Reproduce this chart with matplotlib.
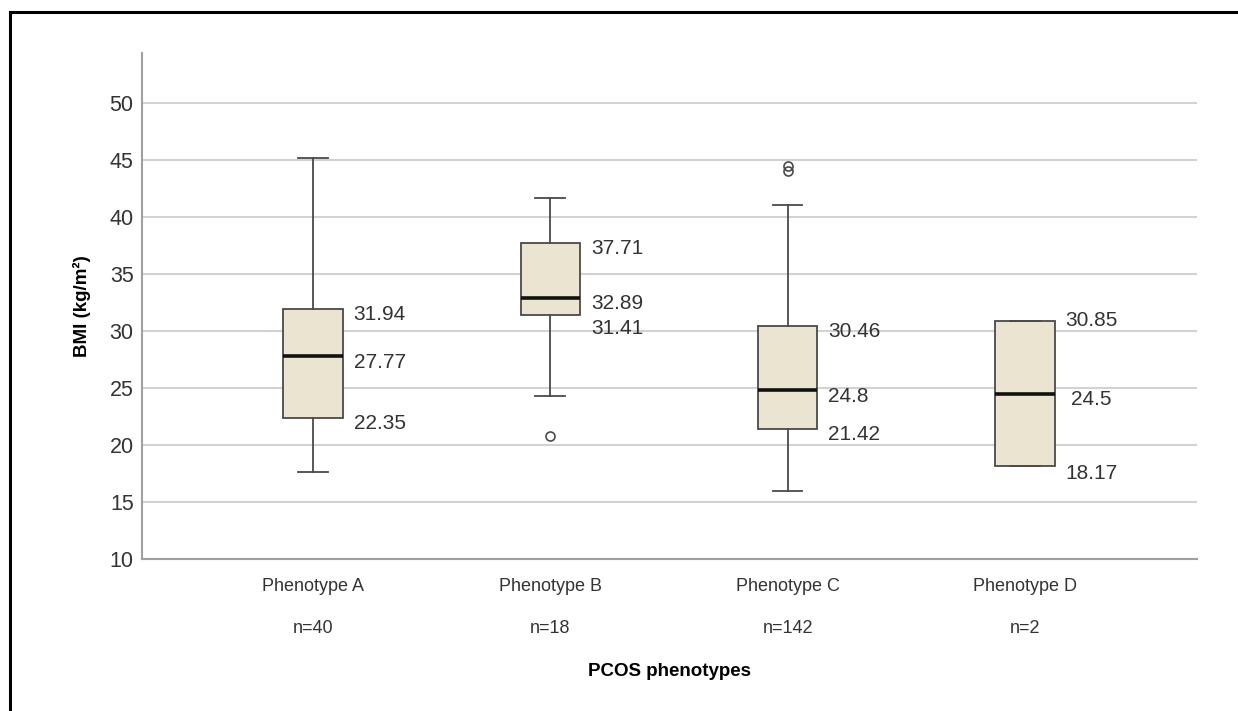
import matplotlib
matplotlib.use('Agg')
import matplotlib.pyplot as plt
from matplotlib.lines import Line2D

# data
phenotypes = ['Phenotype A', 'Phenotype B', 'Phenotype C', 'Phenotype D']
n_counts = [40, 18, 142, 2]
q1 = [22.35, 31.41, 21.42, 18.17]
median = [27.77, 32.89, 24.8, 24.5]
q3 = [31.94, 37.71, 30.46, 30.85]
whisk_lo = [17.6, 24.3, 15.95, 18.17]
whisk_hi = [45.2, 41.65, 41.05, 30.85]
outliers = [[], [20.75], [44.05, 44.5], []]

plt.rcParams['font.family'] = ['Liberation Sans', 'DejaVu Sans']

fig = plt.figure(figsize=(12.38, 7.11), dpi=100)
ax = fig.add_axes([142/1238, 152/711, 1055/1238, 506/711])

stats = []
for i in range(len(phenotypes)):
    stats.append({'med': median[i], 'q1': q1[i], 'q3': q3[i],
                  'whislo': whisk_lo[i], 'whishi': whisk_hi[i],
                  'fliers': outliers[i], 'label': phenotypes[i]})

edge = '#4a4a4a'
ax.bxp(stats, positions=range(4), widths=0.25, capwidths=0.125,
       patch_artist=True, zorder=3,
       boxprops=dict(facecolor='#eae4d0', edgecolor=edge, linewidth=1.3),
       medianprops=dict(color='#111111', linewidth=2.6),
       whiskerprops=dict(color=edge, linewidth=1.3),
       capprops=dict(color=edge, linewidth=1.3),
       flierprops=dict(marker='o', markersize=6.5, markerfacecolor='none',
                       markeredgecolor=edge, markeredgewidth=1.2))

# value labels next to each box
nudge = {(1, 'q1'): -0.7, (3, 'q3'): 0.55, (3, 'q1'): -0.15}
for i in range(4):
    for key, vals in (('q3', q3), ('med', median), ('q1', q1)):
        y = vals[i] + nudge.get((i, key), 0) - 0.5
        dx = 16 if (i == 3 and key == 'med') else 11
        ax.annotate(f'{vals[i]:g}', (i + 0.125, y), xytext=(dx * 0.72, 0),
                    textcoords='offset points', va='center', ha='left',
                    fontsize=15, color='#333333', zorder=4)

ax.set_xlim(-0.72, 3.725)
ax.set_ylim(10, 54.4)
ax.set_yticks(range(10, 55, 5))
ax.yaxis.grid(True, color='#d2d2d2', linewidth=1.5, zorder=0)
ax.set_axisbelow(True)
ax.tick_params(axis='both', length=0)
ax.tick_params(axis='y', labelsize=15.5, labelcolor='#333333', pad=6)
ax.set_xticks(range(4))
ax.set_xticklabels(phenotypes, fontsize=13, color='#333333')
ax.tick_params(axis='x', pad=14)
for i, n in enumerate(n_counts):
    ax.annotate(f'n={n}', (i, 0), xycoords=('data', 'axes fraction'),
                xytext=(0, -50), textcoords='offset points', ha='center', va='center',
                fontsize=13, color='#333333')

ax.set_xlabel('PCOS phenotypes', fontsize=13.5, fontweight='bold', labelpad=49)
ax.set_ylabel('BMI (kg/m²)', fontsize=13.5, fontweight='bold', labelpad=13)

for s in ['top', 'right']:
    ax.spines[s].set_visible(False)
for s in ['left', 'bottom']:
    ax.spines[s].set_color('#a0a0a0')
    ax.spines[s].set_linewidth(1.5)

# outer frame (top and left edges visible)
fig.add_artist(Line2D([10/1238, 1.0], [1 - 12/711, 1 - 12/711], color='black', linewidth=2.2))
fig.add_artist(Line2D([10/1238, 10/1238], [0.0, 1 - 12/711], color='black', linewidth=2.2))

fig.savefig('out.png', dpi=100)
